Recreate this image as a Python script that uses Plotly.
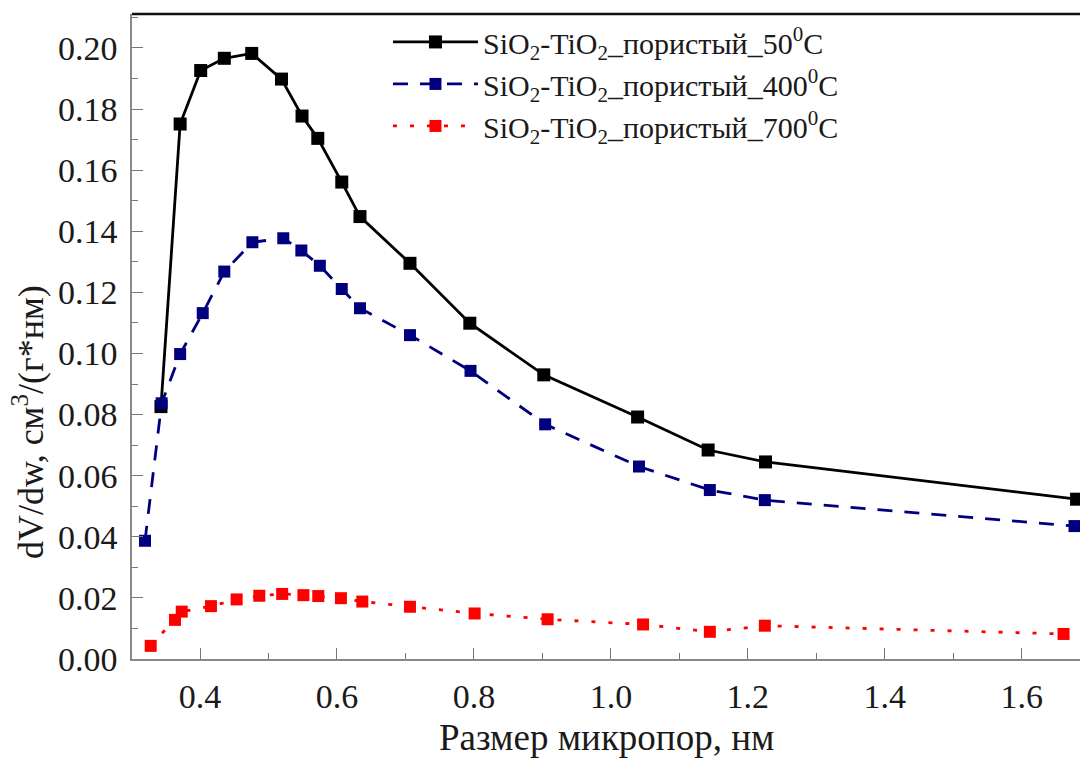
import plotly.graph_objects as go

# Pore-size distribution data: pore width (nm) vs dV/dw (cm^3/(g*nm))
x_50 = [0.343, 0.371, 0.401, 0.4355, 0.4755, 0.519, 0.549, 0.572, 0.607, 0.6336,
        0.7066, 0.794, 0.902, 1.039, 1.142, 1.2258, 1.68]
y_50 = [0.0826, 0.1751, 0.1926, 0.1966, 0.1982, 0.1898, 0.1777, 0.1704, 0.1561, 0.1448,
        0.1295, 0.1099, 0.0930, 0.0792, 0.0684, 0.0645, 0.0523]

x_400 = [0.3197, 0.344, 0.371, 0.404, 0.4355, 0.4765, 0.5216, 0.548, 0.575, 0.607, 0.6336,
         0.7066, 0.795, 0.904, 1.041, 1.1445, 1.2248, 1.677]
y_400 = [0.0387, 0.0837, 0.0998, 0.1132, 0.1268, 0.1364, 0.1377, 0.1337, 0.1287, 0.1211, 0.1148,
         0.1060, 0.0943, 0.0768, 0.0630, 0.0553, 0.0520, 0.0435]

x_700 = [0.328, 0.3635, 0.3733, 0.416, 0.4535, 0.4866, 0.520, 0.551, 0.5727, 0.6058, 0.637,
         0.7066, 0.801, 0.9076, 1.047, 1.1445, 1.2248, 1.661]
y_700 = [0.0043, 0.0128, 0.0155, 0.0173, 0.0195, 0.0207, 0.0213, 0.0209, 0.0206, 0.0199, 0.0188,
         0.0171, 0.0149, 0.0130, 0.0113, 0.0089, 0.0109, 0.0082]

names = [
    "SiO<sub>2</sub>-TiO<sub>2</sub>_пористый_50<sup>0</sup>C",
    "SiO<sub>2</sub>-TiO<sub>2</sub>_пористый_400<sup>0</sup>C",
    "SiO<sub>2</sub>-TiO<sub>2</sub>_пористый_700<sup>0</sup>C",
]

x_title = "Размер микропор, нм"
y_title = "dV/dw, см<sup>3</sup>/(г*нм)"

FONT = "Liberation Serif, Times New Roman, serif"
TEXT = "#1a1a1a"

fig = go.Figure()
fig.add_trace(go.Scatter(
    x=x_50, y=y_50, name=names[0], mode="lines+markers",
    line=dict(color="#000000", width=2.8, dash="solid"),
    marker=dict(symbol="square", size=13, color="#000000"),
))
fig.add_trace(go.Scatter(
    x=x_400, y=y_400, name=names[1], mode="lines+markers",
    line=dict(color="#00007f", width=2.8, dash="15px,12px"),
    marker=dict(symbol="square", size=12, color="#00007f"),
))
fig.add_trace(go.Scatter(
    x=x_700, y=y_700, name=names[2], mode="lines+markers",
    line=dict(color="#ff0000", width=2.8, dash="4px,13px"),
    marker=dict(symbol="square", size=12, color="#ff0000"),
))

fig.update_layout(
    width=1080, height=760,
    margin=dict(l=132, r=0, t=14, b=101),
    paper_bgcolor="white", plot_bgcolor="white",
    font=dict(family=FONT, color=TEXT),
    showlegend=True,
    legend=dict(
        x=0.27, y=0.997, xanchor="left", yanchor="top",
        bgcolor="rgba(0,0,0,0)", borderwidth=0,
        font=dict(family=FONT, size=30, color=TEXT),
        tracegroupgap=0, itemwidth=85,
    ),
    xaxis=dict(
        range=[0.3007, 1.685],
        tickmode="linear", tick0=0, dtick=0.2, tickformat=".1f",
        ticks="inside", ticklen=11, tickwidth=1.2, tickcolor="#777777",
        minor=dict(ticks="inside", ticklen=6, tickwidth=1.2, tickcolor="#777777", dtick=0.1, tick0=0),
        showline=True, linecolor="#888888", linewidth=1.5,
        showgrid=False, zeroline=False,
        tickfont=dict(family=FONT, size=34, color=TEXT),
        ticklabelstandoff=6,
    ),
    yaxis=dict(
        range=[0, 0.2111],
        tickmode="linear", tick0=0, dtick=0.02, tickformat=".2f",
        ticks="inside", ticklen=11, tickwidth=1.2, tickcolor="#777777",
        minor=dict(ticks="inside", ticklen=6, tickwidth=1.2, tickcolor="#777777", dtick=0.01, tick0=0),
        showline=True, linecolor="#888888", linewidth=1.5,
        showgrid=False, zeroline=False,
        tickfont=dict(family=FONT, size=34, color=TEXT),
        ticklabelstandoff=6,
    ),
)

# Heavy frame line along the top of the plotting area
fig.add_shape(type="line", xref="paper", yref="paper", x0=0, x1=1, y0=1, y1=1,
              line=dict(color="#111111", width=2.5))

# Axis titles
fig.add_annotation(text=x_title, xref="paper", yref="paper", x=0.5, y=-0.122,
                   xanchor="center", yanchor="middle", showarrow=False,
                   font=dict(family=FONT, size=37, color=TEXT))
fig.add_annotation(text=y_title, xref="paper", yref="paper", x=-0.1097, y=0.3674,
                   xanchor="center", yanchor="middle", showarrow=False, textangle=-90,
                   font=dict(family=FONT, size=36, color=TEXT))

fig.write_html("out.html")
